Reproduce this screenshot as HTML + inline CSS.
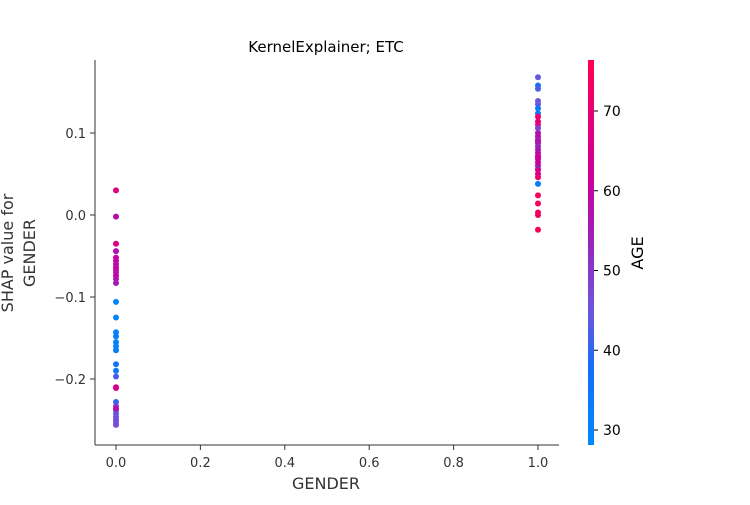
<!DOCTYPE html>
<html><head><meta charset="utf-8"><style>
body{margin:0;background:#fff;font-family:"Liberation Sans","DejaVu Sans",sans-serif}
svg text{font-family:"DejaVu Sans","Liberation Sans",sans-serif}
</style></head><body>
<svg id="chart" width="750" height="500" viewBox="0 0 750 500">
<defs><linearGradient id="cg" x1="0" y1="1" x2="0" y2="0">
<stop offset="0" stop-color="rgb(0,138,250)"/>
<stop offset="0.2" stop-color="rgb(20,110,245)"/>
<stop offset="0.35" stop-color="rgb(110,85,220)"/>
<stop offset="0.55" stop-color="rgb(160,30,180)"/>
<stop offset="0.68" stop-color="rgb(200,0,160)"/>
<stop offset="1" stop-color="rgb(255,0,82)"/>
</linearGradient></defs>
<text x="326" y="52" font-size="15" text-anchor="middle" fill="#000">KernelExplainer; ETC</text>
<g id="marks"></g>
<g id="axes"></g>
<rect x="588" y="60" width="6" height="385" fill="url(#cg)"/>
<text transform="translate(643,253) rotate(-90)" font-size="16" text-anchor="middle" fill="#000">AGE</text>
<text x="326" y="489" font-size="16" text-anchor="middle" fill="#333">GENDER</text>
<text transform="translate(17,253) rotate(-90)" font-size="16" text-anchor="middle" fill="#333"><tspan x="0" dy="-4">SHAP value for</tspan><tspan x="0" dy="22">GENDER</tspan></text>
</svg>
<script>
const xTicks=[0,0.2,0.4,0.6,0.8,1.0];
const xTickLabels=["0.0","0.2","0.4","0.6","0.8","1.0"];
const yTicks=[0.1,0,-0.1,-0.2];
const yTickLabels=["0.1","0.0","\u22120.1","\u22120.2"];
const cTicks=[30,40,50,60,70];
const genderValues=[0,0,0,0,0,0,0,0,0,0,0,0,0,0,0,0,0,0,0,0,0,0,0,0,0,0,0,0,0,0,0,0,0,0,1,1,1,1,1,1,1,1,1,1,1,1,1,1,1,1,1,1,1,1,1,1,1,1,1,1,1,1,1,1,1,1,1,1];
const shapValues=[0.030,-0.002,-0.035,-0.044,-0.052,-0.056,-0.060,-0.064,-0.067,-0.070,-0.074,-0.078,-0.083,-0.106,-0.125,-0.143,-0.148,-0.155,-0.160,-0.165,-0.182,-0.190,-0.197,-0.211,-0.228,-0.233,-0.238,-0.242,-0.246,-0.250,-0.253,-0.256,-0.236,-0.210,
0.168,0.158,0.154,0.139,0.135,0.124,0.120,0.114,0.110,0.100,0.096,0.092,0.088,0.084,0.080,0.076,0.072,0.068,0.064,0.060,0.056,0.050,0.046,0.038,0.024,0.014,0.003,0.000,-0.018,0.106,0.090,0.070,0.055,0.130];
const ageValues=[68,58,66,57,62,60,59,58,63,56,61,57,55,30,30,31,32,31,30,32,35,34,42,68,40,48,46,44,45,47,45,46,58,64,
44,38,42,45,44,33,70,68,70,56,58,55,60,52,55,58,60,57,62,60,33,64,70,32,74,74,72,73,74,48,56,62,66,34];
const X=v=>116+(v-0)*(538-116);
const Y=v=>215-v*820;
const CY=a=>430-(a-30)*7.975;
const stops=[[28,[0,138,250]],[37.6,[20,110,245]],[44.8,[110,85,220]],[54.4,[160,30,180]],[60.6,[200,0,160]],[76,[255,0,82]]];
function col(a){for(let i=0;i<stops.length-1;i++){const[a0,c0]=stops[i],[a1,c1]=stops[i+1];if(a<=a1||i==stops.length-2){let t=Math.max(0,Math.min(1,(a-a0)/(a1-a0)));return`rgb(${c0.map((c,k)=>Math.round(c+(c1[k]-c)*t)).join(',')})`;}}}
const NS="http://www.w3.org/2000/svg";
const marks=document.getElementById('marks'),axes=document.getElementById('axes');
function mk(tag,at,parent){const e=document.createElementNS(NS,tag);for(const k in at)e.setAttribute(k,at[k]);parent.appendChild(e);return e;}
shapValues.forEach((v,i)=>{const c=mk('circle',{cx:X(genderValues[i]),cy:Y(v),r:3,fill:col(ageValues[i])},marks);

});
let l=mk('line',{x1:95,y1:60,x2:95,y2:445,stroke:'#333','stroke-width':1},axes);


l=mk('line',{x1:95,y1:445,x2:559,y2:445,stroke:'#333','stroke-width':1},axes);


xTicks.forEach((t,i)=>{mk('line',{x1:X(t),x2:X(t),y1:445,y2:450,stroke:'#333'},axes);
const tx=mk('text',{x:X(t),y:467,'font-size':13,'text-anchor':'middle',fill:'#333'},axes);tx.textContent=xTickLabels[i];

});
yTicks.forEach((t,i)=>{mk('line',{x1:90,x2:95,y1:Y(t),y2:Y(t),stroke:'#333'},axes);
const tx=mk('text',{x:86,y:Y(t)+5,'font-size':13,'text-anchor':'end',fill:'#333'},axes);tx.textContent=yTickLabels[i];

});
cTicks.forEach(t=>{mk('line',{x1:594,x2:598,y1:CY(t),y2:CY(t),stroke:'#000'},axes);
const tx=mk('text',{x:603,y:CY(t)+5,'font-size':14,fill:'#000'},axes);tx.textContent=t;

});
</script>
</body></html>
